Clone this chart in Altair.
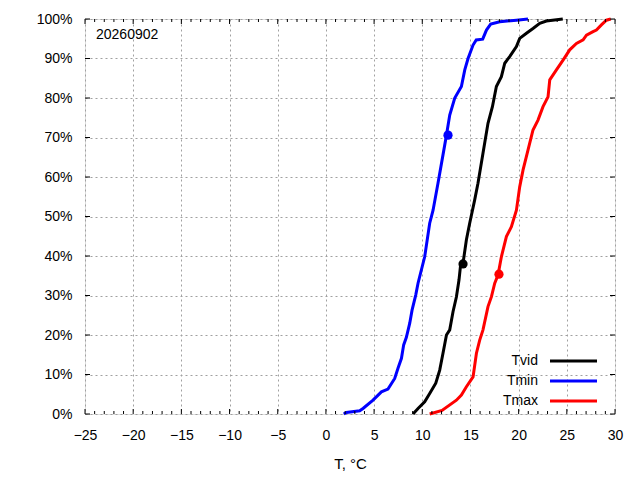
import altair as alt
import pandas as pd

# ---- data ----
stamp = "20260902"
series_names = ["Tvid", "Tmin", "Tmax"]
series_colors = ["#000000", "#0000ff", "#ff0000"]

tvid_t = [9.04, 9.56, 10.25, 10.77, 11.40, 11.81, 12.15, 12.51, 12.85, 13.19, 13.54, 13.81,
          13.96, 14.23, 14.58, 14.92, 15.44, 15.78, 16.30, 16.82, 17.28, 17.69, 18.21, 18.56,
          19.07, 19.77, 20.11, 20.81, 21.49, 22.19, 22.88, 24.58]
tvid_p = [0.0, 1.4, 3.1, 5.2, 7.8, 11.1, 15.4, 20.0, 21.3, 25.9, 29.6, 33.9,
          37.3, 38.2, 44.1, 48.3, 54.2, 58.4, 66.0, 73.6, 77.8, 82.9, 85.4, 88.8,
          90.5, 93.0, 95.1, 96.4, 97.6, 98.9, 99.5, 100.0]

tmin_t = [1.85, 2.13, 3.51, 3.85, 4.89, 5.76, 6.44, 7.14, 7.48, 7.84, 8.07, 8.35, 8.70,
          8.94, 9.32, 9.56, 10.25, 10.77, 11.12, 11.63, 12.15, 12.51, 12.85, 13.37, 14.06,
          14.41, 14.75, 15.27, 15.60, 16.27, 16.66, 17.10, 18.04, 19.77, 20.97]
tmin_p = [0.0, 0.4, 0.8, 1.4, 3.5, 5.6, 6.3, 9.0, 11.6, 14.1, 17.5, 19.4, 23.0,
          26.3, 30.1, 33.1, 39.8, 48.3, 51.6, 58.4, 65.6, 70.6, 75.7, 80.0, 82.9,
          87.1, 90.0, 93.4, 94.7, 94.9, 97.2, 98.7, 99.3, 99.7, 100.0]

tmax_t = [10.77, 12.05, 13.54, 14.06, 14.58, 15.27, 15.62, 15.96, 16.30, 16.82, 17.18, 17.52,
          17.86, 18.21, 18.73, 19.25, 19.77, 20.11, 20.46, 20.97, 21.49, 22.01, 22.53, 23.05,
          23.23, 23.92, 24.61, 25.30, 26.00, 26.69, 27.04, 27.72, 28.07, 28.59, 29.11, 29.56]
tmax_p = [0.0, 0.9, 3.5, 4.8, 6.9, 9.4, 15.4, 18.7, 21.3, 27.2, 29.7, 33.1,
          35.2, 39.8, 44.9, 47.4, 51.6, 57.5, 61.8, 66.8, 71.9, 74.4, 77.8, 80.3,
          84.6, 87.1, 89.6, 92.2, 93.8, 94.7, 95.9, 96.8, 97.2, 98.5, 99.7, 100.0]

dot_series = ["Tvid", "Tmin", "Tmax"]
dot_t = [14.23, 12.67, 17.96]
dot_p = [38.0, 70.6, 35.4]

x_major = list(range(-25, 31, 5))
x_minor = [v for v in range(-25, 31) if v % 5 != 0]
y_major = [i / 10 for i in range(11)]

# ---- tables ----
rows = []
for name, ts, ps in [("Tvid", tvid_t, tvid_p), ("Tmin", tmin_t, tmin_p), ("Tmax", tmax_t, tmax_p)]:
    for i, (t, p) in enumerate(zip(ts, ps)):
        rows.append({"series": name, "t": t, "p": p / 100.0, "i": i})
df = pd.DataFrame(rows)
dots = pd.DataFrame({"series": dot_series, "t": dot_t, "p": [v / 100.0 for v in dot_p]})
stamp_df = pd.DataFrame({"label": [stamp]})
xmaj_df = pd.DataFrame({"t": x_major})
xmin_df = pd.DataFrame({"t": x_minor})
ymaj_df = pd.DataFrame({"p": y_major})
leg_df = pd.DataFrame({"series": series_names})

W, H = 530, 395
FONT = "Liberation Sans"
MAJ, MIN = 5, 3

xscale = alt.Scale(domain=[-25, 30], nice=False, zero=False)
yscale = alt.Scale(domain=[0, 1], nice=False, zero=False)
cscale = alt.Scale(domain=series_names, range=series_colors)

grid_kw = dict(grid=True, gridColor="#a0a0a0", gridDash=[2, 3], gridWidth=1,
               domain=False, ticks=False, labelFont=FONT, labelFontSize=14,
               labelColor="black", titleFont=FONT, titleFontSize=15,
               titleFontWeight="normal", titleColor="black")

lines = alt.Chart(df).mark_line(strokeWidth=3).encode(
    x=alt.X("t:Q", scale=xscale,
            axis=alt.Axis(values=x_major, title="T, °C", labelPadding=14,
                          titlePadding=14, labelFlush=False, **grid_kw)),
    y=alt.Y("p:Q", scale=yscale,
            axis=alt.Axis(values=y_major, format=".0%", title=None,
                          labelPadding=13, labelFlush=False, **grid_kw)),
    color=alt.Color("series:N", scale=cscale, legend=None),
    order="i:Q",
)

points = alt.Chart(dots).mark_circle(size=85, opacity=1).encode(
    x=alt.X("t:Q", scale=xscale, axis=None),
    y=alt.Y("p:Q", scale=yscale, axis=None),
    color=alt.Color("series:N", scale=cscale, legend=None),
)

# inward tick marks (gnuplot style), placed by the x / y scales
def xticks(data, length):
    bottom = alt.Chart(data).mark_rule(color="black", strokeWidth=1).encode(
        x=alt.X("t:Q", scale=xscale, axis=None),
        y=alt.value(H), y2=alt.value(H - length))
    top = alt.Chart(data).mark_rule(color="black", strokeWidth=1).encode(
        x=alt.X("t:Q", scale=xscale, axis=None),
        y=alt.value(0), y2=alt.value(length))
    return [bottom, top]

yt_left = alt.Chart(ymaj_df).mark_rule(color="black", strokeWidth=1).encode(
    y=alt.Y("p:Q", scale=yscale, axis=None),
    x=alt.value(0), x2=alt.value(MAJ))
yt_right = alt.Chart(ymaj_df).mark_rule(color="black", strokeWidth=1).encode(
    y=alt.Y("p:Q", scale=yscale, axis=None),
    x=alt.value(W), x2=alt.value(W - MAJ))

# key (bottom right, labels left of line samples)
leg_y = alt.Y("series:N", scale=alt.Scale(type="point", domain=series_names,
                                          range=[342, 382], padding=0), axis=None)
leg_text = alt.Chart(leg_df).mark_text(align="right", baseline="middle", font=FONT,
                                       fontSize=14, color="black").encode(
    x=alt.value(453), y=leg_y, text="series:N")
leg_line = alt.Chart(leg_df).mark_rule(strokeWidth=3).encode(
    x=alt.value(465), x2=alt.value(512), y=leg_y,
    color=alt.Color("series:N", scale=cscale, legend=None))

stamp_text = alt.Chart(stamp_df).mark_text(align="left", baseline="middle", font=FONT,
                                           fontSize=14, color="black").encode(
    x=alt.value(11), y=alt.value(16), text="label:N")

layers = [lines] + xticks(xmaj_df, MAJ) + xticks(xmin_df, MIN) + [yt_left, yt_right,
          points, stamp_text, leg_line, leg_text]

chart = alt.layer(*layers).resolve_scale(y="independent").resolve_axis(
    x="independent", y="independent"
).properties(
    width=W, height=H,
    padding={"left": 77, "top": 11, "right": 17, "bottom": 58},
    autosize=alt.AutoSizeParams(type="none"),
).configure_view(stroke="black", strokeWidth=1).configure(background="white")

chart.save("out.html", embed_options={"renderer": "svg", "actions": False})
